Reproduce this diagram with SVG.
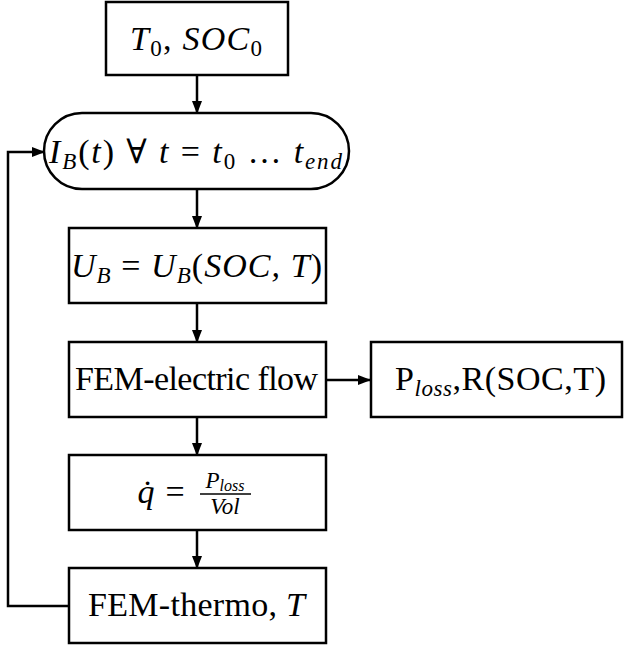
<svg xmlns="http://www.w3.org/2000/svg" width="624" height="649" viewBox="0 0 624 649">
  <style>
    .box { fill: #fff; stroke: #000; stroke-width: 2.5; }
    .wire { fill: none; stroke: #000; stroke-width: 2.5; }
    text { font-family: "Liberation Serif", "DejaVu Serif", serif; font-size: 34px; fill: #000; }
    .i { font-style: italic; }
    .sub { font-size: 23px; }
    .small { font-size: 23px; }
  </style>
  <defs>
    <marker id="arrow" markerWidth="13" markerHeight="10" refX="12" refY="5" orient="auto" markerUnits="userSpaceOnUse">
      <path d="M0,0 L13,5 L0,10 Z" fill="#000"/>
    </marker>
  </defs>

  <g id="connectors">
    <line class="wire" x1="197" y1="75" x2="197" y2="113" marker-end="url(#arrow)"/>
    <line class="wire" x1="197" y1="189" x2="197" y2="228" marker-end="url(#arrow)"/>
    <line class="wire" x1="197" y1="303" x2="197" y2="342" marker-end="url(#arrow)"/>
    <line class="wire" x1="197" y1="417" x2="197" y2="455" marker-end="url(#arrow)"/>
    <line class="wire" x1="197" y1="530" x2="197" y2="568" marker-end="url(#arrow)"/>
    <line class="wire" x1="326" y1="380" x2="370" y2="380" marker-end="url(#arrow)"/>
    <polyline class="wire" points="69,606 8,606 8,152 44,152" marker-end="url(#arrow)"/>
  </g>

  <g id="init">
    <rect class="box" x="106" y="2" width="182" height="73"/>
    <text x="130" y="50" textLength="132" lengthAdjust="spacing"><tspan class="i">T</tspan><tspan class="sub" dy="6">0</tspan><tspan dy="-6">, </tspan><tspan class="i">SOC</tspan><tspan class="sub" dy="6">0</tspan></text>
  </g>

  <g id="current">
    <rect class="box" x="44" y="113" width="305" height="76" rx="38" ry="38"/>
    <text x="49" y="163" textLength="293" lengthAdjust="spacing"><tspan class="i">I</tspan><tspan class="sub i" dy="6">B</tspan><tspan dy="-6">(</tspan><tspan class="i">t</tspan><tspan>) ∀ </tspan><tspan class="i">t</tspan><tspan> = </tspan><tspan class="i">t</tspan><tspan class="sub" dy="6">0</tspan><tspan dy="-6"> … </tspan><tspan class="i">t</tspan><tspan class="sub i" dy="6">end</tspan></text>
  </g>

  <g id="voltage">
    <rect class="box" x="69" y="228" width="257" height="75"/>
    <text x="71" y="277" textLength="251" lengthAdjust="spacing"><tspan class="i">U</tspan><tspan class="sub i" dy="6">B</tspan><tspan dy="-6"> = </tspan><tspan class="i">U</tspan><tspan class="sub i" dy="6">B</tspan><tspan dy="-6">(</tspan><tspan class="i">SOC, T</tspan><tspan>)</tspan></text>
  </g>

  <g id="electric">
    <rect class="box" x="69" y="342" width="257" height="75"/>
    <text x="75" y="390" textLength="243" lengthAdjust="spacing">FEM-electric flow</text>
  </g>

  <g id="loss">
    <rect class="box" x="371" y="342" width="251" height="75"/>
    <text x="395" y="390" textLength="211" lengthAdjust="spacing">P<tspan class="sub i" dy="6">loss</tspan><tspan dy="-6">,R(SOC,T)</tspan></text>
  </g>

  <g id="heat">
    <rect class="box" x="69" y="455" width="257" height="75"/>
    <text x="146" y="503" text-anchor="middle" class="i">q&#x307;</text>
    <text x="175" y="503" text-anchor="middle">=</text>
    <text x="225" y="488" text-anchor="middle" class="small"><tspan class="i">P</tspan><tspan class="i" font-size="16" dy="3">loss</tspan></text>
    <line x1="200" y1="494" x2="251" y2="494" stroke="#000" stroke-width="1.5"/>
    <text x="225" y="514" text-anchor="middle" class="small i">Vol</text>
  </g>

  <g id="thermo">
    <rect class="box" x="69" y="568" width="257" height="75"/>
    <text x="88" y="616" textLength="217" lengthAdjust="spacing">FEM-thermo, <tspan class="i">T</tspan></text>
  </g>
</svg>
